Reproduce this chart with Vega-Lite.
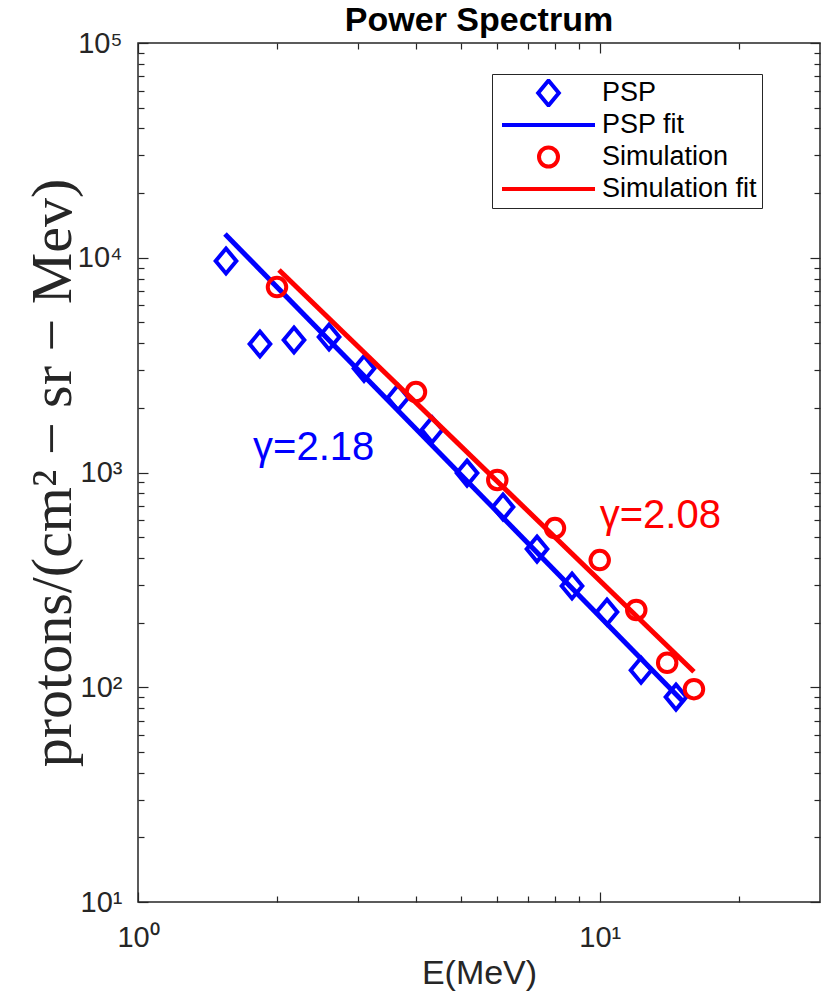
{
  "$schema": "https://vega.github.io/schema/vega-lite/v6.json",
  "width": 682,
  "height": 859,
  "autosize": {"type": "none"},
  "padding": {"left": 138, "top": 43, "right": 10, "bottom": 100},
  "background": "white",
  "title": {
    "text": "Power Spectrum",
    "font": "Liberation Sans",
    "fontSize": 34,
    "fontWeight": "bold",
    "color": "black",
    "frame": "group",
    "anchor": "middle",
    "offset": -9
  },
  "datasets": {
    "psp": [
      {"E": 1.551, "F": 9660, "series": "PSP"},
      {"E": 1.837, "F": 3966, "series": "PSP"},
      {"E": 2.177, "F": 4140, "series": "PSP"},
      {"E": 2.593, "F": 4275, "series": "PSP"},
      {"E": 3.087, "F": 3050, "series": "PSP"},
      {"E": 3.657, "F": 2230, "series": "PSP"},
      {"E": 4.334, "F": 1580, "series": "PSP"},
      {"E": 5.16, "F": 994, "series": "PSP"},
      {"E": 6.174, "F": 691, "series": "PSP"},
      {"E": 7.315, "F": 440, "series": "PSP"},
      {"E": 8.71, "F": 296, "series": "PSP"},
      {"E": 10.37, "F": 224, "series": "PSP"},
      {"E": 12.29, "F": 120, "series": "PSP"},
      {"E": 14.63, "F": 90, "series": "PSP"}
    ],
    "sim": [
      {"E": 2, "F": 7300, "series": "Simulation"},
      {"E": 4, "F": 2370, "series": "Simulation"},
      {"E": 6, "F": 923, "series": "Simulation"},
      {"E": 8, "F": 551, "series": "Simulation"},
      {"E": 10, "F": 391, "series": "Simulation"},
      {"E": 12, "F": 229, "series": "Simulation"},
      {"E": 14, "F": 130, "series": "Simulation"},
      {"E": 16, "F": 98, "series": "Simulation"}
    ],
    "fits": [
      {"E": 1.543, "F": 12900, "series": "PSP fit"},
      {"E": 15.22, "F": 85, "series": "PSP fit"},
      {"E": 2.02, "F": 8770, "series": "Simulation fit"},
      {"E": 16.0, "F": 118, "series": "Simulation fit"}
    ],
    "notes": [
      {"E": 1.775, "F": 1143, "series": "PSP fit", "label": "γ=2.18"},
      {"E": 10.0, "F": 551, "series": "Simulation fit", "label": "γ=2.08"}
    ]
  },
  "resolve": {"axis": {"x": "independent", "y": "independent"}},
  "layer": [
    {
      "data": {"name": "psp"},
      "mark": {"type": "point", "filled": false, "strokeWidth": 4, "opacity": 1},
      "encoding": {
        "x": {
          "field": "E", "type": "quantitative",
          "scale": {"type": "log", "domain": [1, 30], "nice": false},
          "axis": {"orient": "bottom", "values": [2, 3, 4, 5, 6, 7, 8, 9, 20], "tickSize": -6, "labels": false, "title": null}
        },
        "y": {
          "field": "F", "type": "quantitative",
          "scale": {"type": "log", "domain": [10, 100000], "nice": false},
          "axis": {"orient": "left", "values": [20, 30, 40, 50, 60, 70, 80, 90, 200, 300, 400, 500, 600, 700, 800, 900, 2000, 3000, 4000, 5000, 6000, 7000, 8000, 9000, 20000, 30000, 40000, 50000, 60000, 70000, 80000, 90000], "tickSize": -6, "labels": false, "title": null}
        },
        "color": {
          "field": "series", "type": "nominal",
          "scale": {"domain": ["PSP", "PSP fit", "Simulation", "Simulation fit"], "range": ["#0000ff", "#0000ff", "#ff0000", "#ff0000"]},
          "legend": {"title": null, "labelExpr": "datum.label + '\u00a0\u00a0\u00a0'"}
        },
        "shape": {
          "field": "series", "type": "nominal",
          "scale": {"domain": ["PSP", "PSP fit", "Simulation", "Simulation fit"], "range": ["M0,-1L0.83,0L0,1L-0.83,0Z", "stroke", "circle", "stroke"]},
          "legend": {"title": null, "labelExpr": "datum.label + '\u00a0\u00a0\u00a0'"}
        },
        "size": {
          "field": "series", "type": "ordinal",
          "scale": {"type": "ordinal", "domain": ["PSP", "PSP fit", "Simulation", "Simulation fit"], "range": [620, 8649, 361, 8649]},
          "legend": {"title": null, "labelExpr": "datum.label + '\u00a0\u00a0\u00a0'"}
        }
      }
    },
    {
      "data": {"name": "fits"},
      "transform": [{"filter": "datum.series == 'PSP fit'"}],
      "mark": {"type": "line", "strokeWidth": 5, "strokeCap": "butt", "color": "#0000ff"},
      "encoding": {
        "x": {
          "field": "E", "type": "quantitative",
          "scale": {"type": "log", "domain": [1, 30], "nice": false},
          "axis": {"orient": "bottom", "values": [1, 10], "tickSize": -10, "labelPadding": 31,
            "labelExpr": "'10' + substring('⁰¹²³⁴⁵', round(log(datum.value)/LN10), round(log(datum.value)/LN10) + 1)",
            "title": "E(MeV)", "titleFont": "Liberation Sans", "titleFontSize": 34, "titleFontWeight": "normal", "titlePadding": 4}
        },
        "y": {
          "field": "F", "type": "quantitative",
          "scale": {"type": "log", "domain": [10, 100000], "nice": false},
          "axis": {"orient": "left", "values": [10, 100, 1000, 10000, 100000], "tickSize": -10, "labelPadding": 26,
            "labelExpr": "'10' + substring('⁰¹²³⁴⁵', round(log(datum.value)/LN10), round(log(datum.value)/LN10) + 1)",
            "title": "protons/(cm²  −  sr  −  Mev)", "titleFont": "Liberation Serif", "titleFontSize": 58, "titleFontWeight": "normal", "titlePadding": -5}
        }
      }
    },
    {
      "data": {"name": "sim"},
      "mark": {"type": "point", "shape": "circle", "filled": false, "strokeWidth": 4, "size": 342, "opacity": 1, "color": "#ff0000"},
      "encoding": {
        "x": {
          "field": "E", "type": "quantitative",
          "scale": {"type": "log", "domain": [1, 30], "nice": false},
          "axis": {"orient": "top", "values": [2, 3, 4, 5, 6, 7, 8, 9, 20], "tickSize": -6, "labels": false, "title": null}
        },
        "y": {
          "field": "F", "type": "quantitative",
          "scale": {"type": "log", "domain": [10, 100000], "nice": false},
          "axis": {"orient": "right", "values": [20, 30, 40, 50, 60, 70, 80, 90, 200, 300, 400, 500, 600, 700, 800, 900, 2000, 3000, 4000, 5000, 6000, 7000, 8000, 9000, 20000, 30000, 40000, 50000, 60000, 70000, 80000, 90000], "tickSize": -6, "labels": false, "title": null}
        }
      }
    },
    {
      "data": {"name": "fits"},
      "transform": [{"filter": "datum.series == 'Simulation fit'"}],
      "mark": {"type": "line", "strokeWidth": 5, "strokeCap": "butt", "color": "#ff0000"},
      "encoding": {
        "x": {
          "field": "E", "type": "quantitative",
          "scale": {"type": "log", "domain": [1, 30], "nice": false},
          "axis": {"orient": "top", "values": [1, 10], "tickSize": -10, "labels": false, "title": null}
        },
        "y": {
          "field": "F", "type": "quantitative",
          "scale": {"type": "log", "domain": [10, 100000], "nice": false},
          "axis": {"orient": "right", "values": [10, 100, 1000, 10000, 100000], "tickSize": -10, "labels": false, "title": null}
        }
      }
    },
    {
      "data": {"name": "notes"},
      "transform": [{"filter": "datum.series == 'PSP fit'"}],
      "mark": {"type": "text", "font": "Liberation Sans", "fontSize": 40, "align": "left", "baseline": "alphabetic", "color": "#0000ff"},
      "encoding": {
        "x": {"field": "E", "type": "quantitative", "scale": {"type": "log", "domain": [1, 30], "nice": false}, "axis": null},
        "y": {"field": "F", "type": "quantitative", "scale": {"type": "log", "domain": [10, 100000], "nice": false}, "axis": null},
        "text": {"field": "label"}
      }
    },
    {
      "data": {"name": "notes"},
      "transform": [{"filter": "datum.series == 'Simulation fit'"}],
      "mark": {"type": "text", "font": "Liberation Sans", "fontSize": 40, "align": "left", "baseline": "alphabetic", "color": "#ff0000"},
      "encoding": {
        "x": {"field": "E", "type": "quantitative", "scale": {"type": "log", "domain": [1, 30], "nice": false}, "axis": null},
        "y": {"field": "F", "type": "quantitative", "scale": {"type": "log", "domain": [10, 100000], "nice": false}, "axis": null},
        "text": {"field": "label"}
      }
    }
  ],
  "config": {
    "view": {"stroke": "#262626", "strokeWidth": 1.5},
    "axis": {
      "domain": false,
      "grid": false,
      "tickColor": "#262626",
      "tickWidth": 1.2,
      "labelColor": "#262626",
      "titleColor": "#262626",
      "labelFont": "Liberation Sans",
      "labelFontSize": 29,
      "labelFlush": false,
      "labelOverlap": false
    },
    "legend": {
      "orient": "none",
      "legendX": 354,
      "legendY": 31,
      "padding": 5,
      "strokeColor": "#262626",
      "fillColor": "white",
      "labelFont": "Liberation Sans",
      "labelFontSize": 27,
      "labelColor": "black",
      "labelLimit": 400,
      "symbolStrokeWidth": 4,
      "clipHeight": 28,
      "rowPadding": 4,
      "symbolOffset": 3,
      "labelOffset": 5
    }
  }
}
